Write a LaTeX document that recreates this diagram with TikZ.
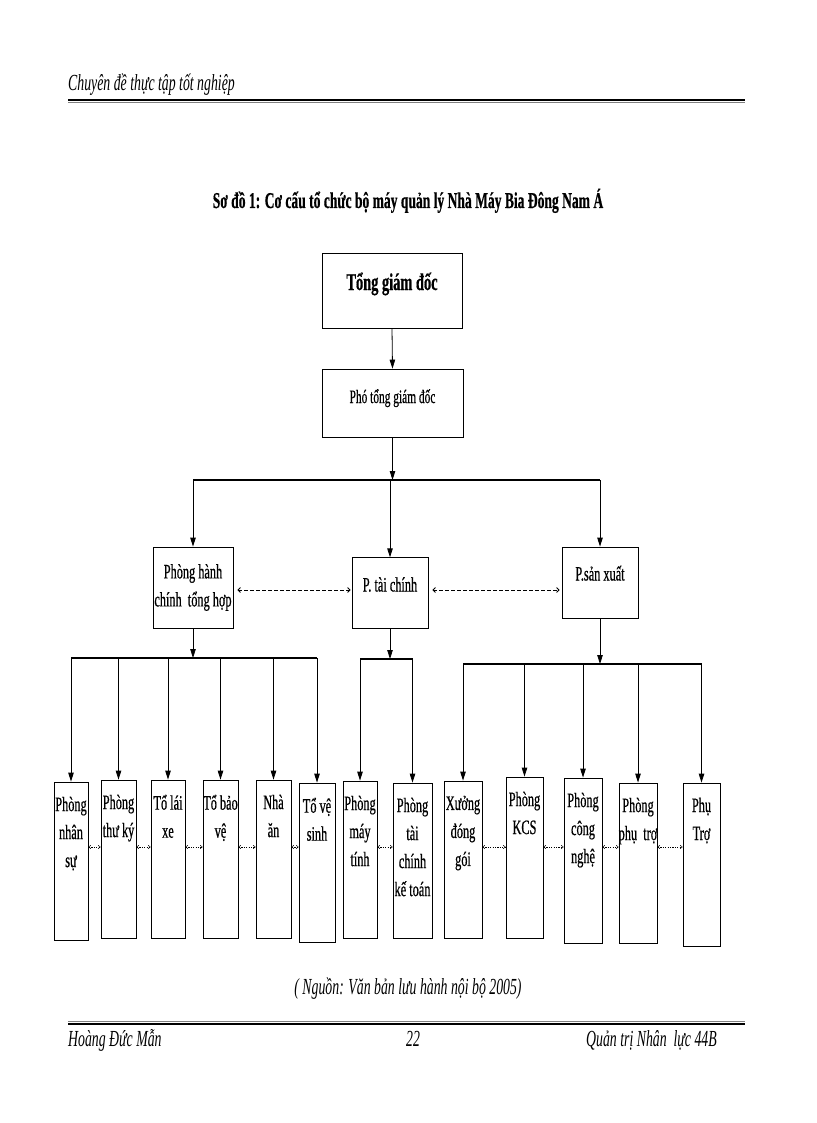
\documentclass[tikz,border=0pt]{standalone}
\usepackage{fontspec}
\setmainfont{Liberation Serif}[FakeStretch=0.6, FakeBold=0.6]
\newfontfamily\pagefont{Liberation Serif}[FakeStretch=0.6]
\usetikzlibrary{arrows.meta,positioning}

\begin{document}
\begin{tikzpicture}[x=1pt, y=-1pt,
	box/.style={draw, line width=0.8pt, inner sep=0pt},
	arrow/.style={line width=0.8pt, -{Triangle[length=9pt, width=5.5pt]}},
	bus/.style={line width=1.5pt},
	dashlink/.style={line width=0.8pt, dash pattern=on 3.5pt off 2.5pt,
		{Straight Barb[length=2.5pt, width=5pt]}-{Straight Barb[length=2.5pt, width=5pt]}},
	dotlink/.style={line width=0.5pt, dash pattern=on 1.2pt off 1.2pt,
		{Straight Barb[length=2pt, width=3.5pt]}-{Straight Barb[length=2pt, width=3.5pt]}},
	unittext/.style={align=center, inner sep=0pt,
		font=\fontsize{20.5}{28}\selectfont,
		execute at begin node={\rule{0pt}{17pt}}},
	pagetext/.style={inner sep=0pt, font=\pagefont\fontsize{23}{26}\selectfont\itshape}]
	\def \pagel{68}
	\def \pager{745}
	\def \unitrow{847}

	\useasboundingbox (0,0) rectangle (816,1123);

	% Header
	\node[pagetext, anchor=base west] (header) at (\pagel,91) {Chuyên đề thực tập tốt nghiệp};
	\draw[line width=2.5pt] (\pagel,100) -- (\pager,100);
	\draw[gray, line width=1pt] (\pagel,103) -- (\pager,103);

	% Title
	\node[inner sep=0pt, anchor=base, font=\fontsize{22.6}{25}\selectfont\bfseries] (title) at (408,208)
		{Sơ đồ 1: Cơ cấu tổ chức bộ máy quản lý Nhà Máy Bia Đông Nam Á};

	% Management
	\node[box, minimum width=140pt, minimum height=75pt, text height=21pt, text depth=22pt,
		font=\fontsize{24}{28}\selectfont\bfseries] (tgd) at (392,290.5) {Tổng giám đốc};
	\node[box, minimum width=141pt, minimum height=68pt, text height=17pt, text depth=17pt,
		font=\fontsize{19}{22}\selectfont] (ptgd) at (392.5,403) {Phó tổng giám đốc};
	\draw[arrow] (tgd.south) -- (ptgd.north);

	% Departments
	\node[box, minimum width=80pt, minimum height=81pt, align=center,
		font=\fontsize{20.5}{28}\selectfont] (hanhchinh) at (193,587.5) {Phòng hành\\chính\ \ tổng hợp};
	\node[box, minimum width=76pt, minimum height=70.5pt, text height=14pt, text depth=17pt,
		font=\fontsize{20.5}{28}\selectfont] (taichinh) at (390,593) {P. tài chính};
	\node[box, minimum width=76pt, minimum height=71pt, text height=15pt, text depth=19pt,
		font=\fontsize{20.5}{28}\selectfont] (sanxuat) at (600,582.5) {P.sản xuất};

	\coordinate (mainbus) at (0,480);
	\draw[arrow] (ptgd.south) -- (ptgd.south |- mainbus);
	\draw[bus] (hanhchinh.north |- mainbus) -- (sanxuat.north |- mainbus);
	\foreach \dept in {hanhchinh, taichinh, sanxuat}
		\draw[arrow] (\dept.north |- mainbus) -- (\dept.north);

	\coordinate (deptrow) at (0,590);
	\draw[dashlink, shorten <=4pt, shorten >=1pt] (hanhchinh.east |- deptrow) -- (taichinh.west |- deptrow);
	\draw[dashlink, shorten <=4pt, shorten >=2pt] (taichinh.east |- deptrow) -- (sanxuat.west |- deptrow);

	% Units
	\foreach \name/\xl/\xr/\yt/\yb/\txt in {
		nhansu/54/88/782/940/{Phòng\\nhân\\sự},
		thuky/101/136/780/938/{Phòng\\thư ký},
		laixe/151/185/780/938/{Tổ lái\\xe},
		baove/203/238/780/938/{Tổ bảo\\vệ},
		nhaan/256/291/780/938/{Nhà\\ăn},
		vesinh/299/335/783/942/{Tổ vệ\\sinh},
		maytinh/343/377/781/938/{Phòng\\máy\\tính},
		ketoan/393/432/783/938/{Phòng\\tài\\chính\\kế toán},
		donggoi/444/482/781/938/{Xưởng\\đóng\\gói},
		kcs/506/543/777/938/{Phòng\\KCS},
		congnghe/564/602/778/943/{Phòng\\công\\nghệ},
		phutro/619/657/783/943/{Phòng\\phụ\ \ trợ},
		phutroB/683/720/783/946/{Phụ\\Trợ}} {
		\node[box, minimum width={(\xr-\xl)*1pt}, minimum height={(\yb-\yt)*1pt}]
			(\name) at ({(\xl+\xr)/2}, {(\yt+\yb)/2}) {};
		\node[unittext, below=15pt of \name.north] (\name-text) {\txt};
	}

	% Administration units
	\coordinate (hcbus) at (0,658);
	\draw[arrow] (hanhchinh.south) -- (hanhchinh.south |- hcbus);
	\draw[bus] (nhansu.north |- hcbus) -- (vesinh.north |- hcbus);
	\foreach \unit in {nhansu, thuky, laixe, baove, nhaan, vesinh}
		\draw[arrow] (\unit.north |- hcbus) -- (\unit.north);

	% Finance units
	\coordinate (tcbus) at (0,659);
	\draw[arrow] (taichinh.south) -- (taichinh.south |- tcbus);
	\draw[bus] (maytinh.north |- tcbus) -- (ketoan.north |- tcbus);
	\foreach \unit in {maytinh, ketoan}
		\draw[arrow] (\unit.north |- tcbus) -- (\unit.north);

	% Production units
	\coordinate (sxbus) at (0,664);
	\draw[arrow] (sanxuat.south) -- (sanxuat.south |- sxbus);
	\draw[bus] (donggoi.north |- sxbus) -- (phutroB.north |- sxbus);
	\foreach \unit in {donggoi, kcs, congnghe, phutro, phutroB}
		\draw[arrow] (\unit.north |- sxbus) -- (\unit.north);

	% Links between units
	\coordinate (unitlinks) at (0,\unitrow);
	\foreach \ua/\ub in {nhansu/thuky, thuky/laixe, laixe/baove, baove/nhaan, nhaan/vesinh,
		maytinh/ketoan, donggoi/kcs, kcs/congnghe, congnghe/phutro, phutro/phutroB}
		\draw[dotlink] (\ua.east |- unitlinks) -- (\ub.west |- unitlinks);

	% Footer
	\node[pagetext, anchor=base] (source) at (408,994) {( Nguồn: Văn bản lưu hành nội bộ 2005)};
	\draw[gray, line width=1pt] (\pagel,1021) -- (\pager,1021);
	\draw[line width=2.5pt] (\pagel,1024) -- (\pager,1024);
	\node[pagetext, anchor=base west] (author) at (\pagel,1046) {Hoàng Đức Mẫn};
	\node[pagetext, anchor=base] (pageno) at (413,1046) {22};
	\node[pagetext, anchor=base east] (course) at (717,1046) {Quản trị Nhân\ \ lực 44B};
\end{tikzpicture}
\end{document}
